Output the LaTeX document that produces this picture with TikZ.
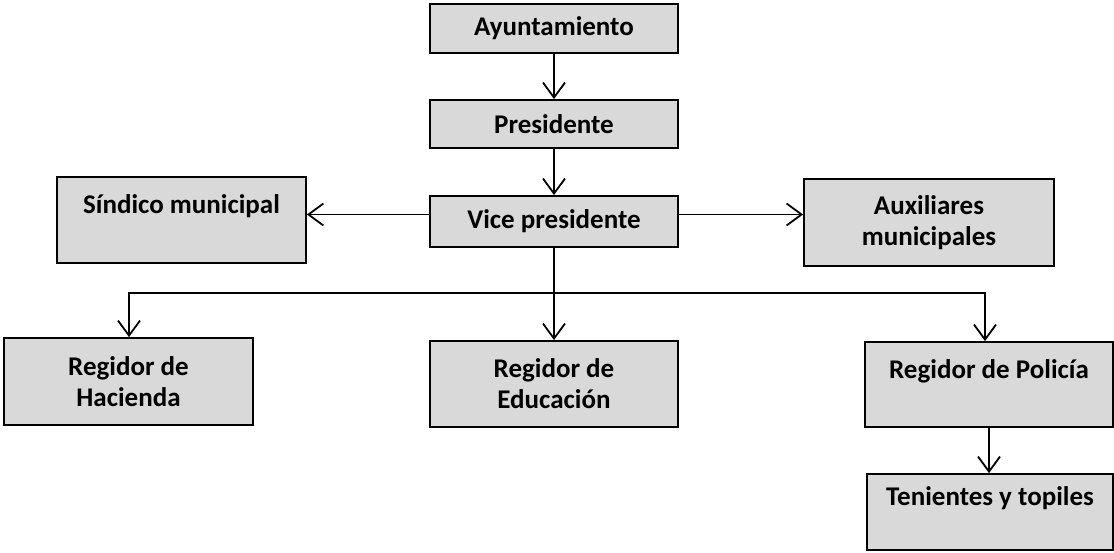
\documentclass[tikz,border=0pt]{standalone}
\usepackage{fontspec}
\setmainfont{Carlito}
\usetikzlibrary{arrows.meta}
\definecolor{boxgray}{HTML}{D9D9D9}
\begin{document}
\begin{tikzpicture}[x=1pt,y=1pt,
  box/.style={draw=black, line width=1.8pt, fill=boxgray, inner sep=0pt, align=center,
    font=\fontsize{27}{31}\selectfont\bfseries},
  arr/.style={line width=1.8pt, -{Straight Barb[length=15pt,width=22pt,line width=1.8pt]}},
  ln/.style={line width=1.8pt}]
\useasboundingbox (0,0) rectangle (1114,552);
\node[box, minimum width=248, minimum height=49] (ayun) at (554,523.5) {Ayuntamiento};
\node[box, minimum width=248, minimum height=48] (pres) at (554,428) {Presidente};
\node[box, minimum width=248, minimum height=51] (vice) at (554,330.5) {Vice presidente};
\node[box, minimum width=249, minimum height=86] (sind) at (181.5,332) {Síndico municipal\\ ~};
\node[box, minimum width=250, minimum height=87] (aux) at (929,329.5) {Auxiliares\\municipales};
\node[box, minimum width=249, minimum height=87] (hac) at (128.5,170.5) {Regidor de\\Hacienda};
\node[box, minimum width=248, minimum height=86] (edu) at (554,168) {Regidor de\\Educación};
\node[box, minimum width=248, minimum height=85] (pol) at (989,167.5) {Regidor de Policía\\ ~};
\node[box, minimum width=246, minimum height=76] (ten) at (990,40) {Tenientes y topiles\\ ~};
\coordinate (junc) at (554,259);
\draw[arr] (ayun) -- (pres);
\draw[arr] (pres) -- (vice);
\draw[arr] ([yshift=7]vice.west) -- ([yshift=7]vice.west -| sind.east);
\draw[arr] ([yshift=7]vice.east) -- ([yshift=7]vice.east -| aux.west);
\draw[ln] (vice.south) -- (junc);
\draw[arr] (junc) -| ([xshift=0.5]hac.north);
\draw[arr] (junc) -| ([xshift=-4]pol.north);
\draw[arr] (junc) -- (edu.north);
\draw[arr] (pol.south) -- (pol.south |- ten.north);
\end{tikzpicture}
\end{document}
